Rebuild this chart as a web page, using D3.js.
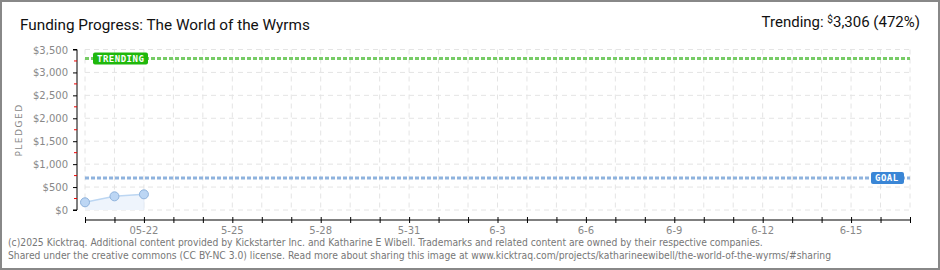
<!DOCTYPE html>
<html>
<head>
<meta charset="UTF-8">
<title>Funding Progress</title>
<script src="https://d3js.org/d3.v7.min.js"></script>
<style>
  body { margin: 0; padding: 0; background: #fff; }
  svg { display: block; }
  .tick-label { font-family: "DejaVu Sans", sans-serif; font-size: 10px; fill: #888; }
</style>
</head>
<body>
<svg id="chart" width="940" height="270"></svg>
<script>
// chart data
const days = ["2025-05-20", "2025-05-21", "2025-05-22"];
const pledged = [168, 298, 342];
const goal = 700;
const trending = 3306;
const trendingPct = 472;
const yTicks = [0, 500, 1000, 1500, 2000, 2500, 3000, 3500];
const xStart = "2025-05-20", xEnd = "2025-06-17";

const W = 940, H = 270;
const parse = d3.timeParse("%Y-%m-%d");
const svg = d3.select("#chart");

const x = d3.scaleTime().domain([parse(xStart), parse(xEnd)]).range([85, 910]);
const y = d3.scaleLinear().domain([0, 3500]).range([210, 49.5]);

// outer frame
svg.append("rect").attr("x", 1).attr("y", 1).attr("width", W - 2).attr("height", H - 2)
  .attr("fill", "#fff").attr("stroke", "#888").attr("stroke-width", 2);

// title
svg.append("text").attr("x", 20).attr("y", 30)
  .style("font-family", "Roboto, sans-serif").style("font-size", "15.3px").style("fill", "#111")
  .text("Funding Progress: The World of the Wyrms");

const tr = svg.append("text").attr("x", 920).attr("y", 27).attr("text-anchor", "end")
  .style("font-family", "Roboto, sans-serif").style("font-size", "15px").style("fill", "#111");
tr.append("tspan").text("Trending:  ");
tr.append("tspan").attr("dy", -4).style("font-size", "10px").text("$");
tr.append("tspan").attr("dy", 4).text(d3.format(",")(trending) + " (" + trendingPct + "%)");

// grid
const allDays = d3.timeDay.range(parse(xStart), d3.timeDay.offset(parse(xEnd), 1));
svg.append("g").selectAll("line").data(allDays).enter().append("line")
  .attr("x1", d => x(d)).attr("x2", d => x(d)).attr("y1", y(3500)).attr("y2", y(0))
  .attr("stroke", "#e4e4e4").attr("stroke-dasharray", "5,4");
svg.append("g").selectAll("line").data(yTicks).enter().append("line")
  .attr("x1", 85).attr("x2", 910).attr("y1", d => y(d)).attr("y2", d => y(d))
  .attr("stroke", "#e4e4e4").attr("stroke-dasharray", "5,4");

// y axis
const yAxis = d3.axisLeft(y).tickValues(yTicks).tickSize(4).tickFormat(d => "$" + d3.format(",")(d));
const gy = svg.append("g").attr("transform", "translate(77,0)").call(yAxis);
gy.select(".domain").attr("stroke", "#000").attr("d", "M-4," + y(3500) + "H0V" + y(0) + "H-4");
gy.selectAll(".tick line").attr("stroke", "#000");
gy.selectAll(".tick text").attr("class", "tick-label").attr("x", -9).attr("dy", "0.35em");
gy.selectAll(".minor").data(yTicks.slice(0, -1).map(d => d + 250)).enter().append("line")
  .attr("x1", -3).attr("x2", 0).attr("y1", d => y(d)).attr("y2", d => y(d))
  .attr("stroke", "#e00").attr("stroke-width", 1);

svg.append("text").attr("transform", "translate(22,130) rotate(-90)").attr("text-anchor", "middle")
  .style("font-family", "DejaVu Sans, sans-serif").style("font-size", "9px").style("fill", "#888")
  .style("letter-spacing", "1.5px").text("PLEDGED");

// x axis
const labelDays = allDays.filter(d => d3.timeDay.count(parse("2025-05-22"), d) % 3 === 0 && d >= parse("2025-05-22"));
const xAxis = d3.axisBottom(x).tickValues(allDays).tickSize(0).tickFormat("");
const gx = svg.append("g").attr("transform", "translate(0,220)").call(xAxis);
gx.select(".domain").attr("stroke", "#000").attr("d", "M85,0H910");
gx.selectAll(".tick line").attr("stroke", "#000").attr("y1", -3).attr("y2", 3);
gx.selectAll(".lbl").data(labelDays).enter().append("text").attr("class", "tick-label")
  .attr("x", d => x(d)).attr("y", 14).attr("text-anchor", "middle")
  .text((d, i) => i === 0 ? d3.timeFormat("%m-%d")(d) : d3.timeFormat("%-m-%-d")(d));

// pledged area and line
const pts = days.map((d, i) => ({ date: parse(d), v: pledged[i] }));
svg.append("path").datum(pts)
  .attr("d", d3.area().x(d => x(d.date)).y0(y(0)).y1(d => y(d.v)))
  .attr("fill", "#eef4fc");
svg.append("path").datum(pts)
  .attr("d", d3.line().x(d => x(d.date)).y(d => y(d.v)))
  .attr("fill", "none").attr("stroke", "#bcd6f2").attr("stroke-width", 1.5);
svg.append("line").attr("x1", x(pts[2].date)).attr("x2", x(pts[2].date))
  .attr("y1", y(pts[2].v)).attr("y2", y(0)).attr("stroke", "#e4ecf6");
svg.append("g").selectAll("circle").data(pts).enter().append("circle")
  .attr("cx", d => x(d.date)).attr("cy", d => y(d.v)).attr("r", 4.5)
  .attr("fill", "#bcd6f4").attr("stroke", "#8fb3dc").attr("stroke-width", 1);

// trending and goal lines
function refLine(v, color, label, bx, bw, bcolor) {
  svg.append("line").attr("x1", 85).attr("x2", 910).attr("y1", y(v)).attr("y2", y(v))
    .attr("stroke", color).attr("stroke-width", 3).attr("stroke-dasharray", "4,2");
  svg.append("rect").attr("x", bx).attr("y", y(v) - 6).attr("width", bw).attr("height", 12)
    .attr("rx", 2).attr("fill", bcolor);
  svg.append("text").attr("x", bx + 4).attr("y", y(v) + 3.5)
    .style("font-family", "DejaVu Sans Mono, monospace").style("font-size", "9px")
    .style("font-weight", "bold").style("fill", "#fff").style("letter-spacing", "0.5px").text(label);
}
refLine(trending, "#77cc66", "TRENDING", 93, 55, "#1fb80c");
refLine(goal, "#8fb3de", "GOAL", 871, 33, "#3a86d6");

// footer
const foot = svg.append("g").style("font-family", "DejaVu Sans Condensed, Roboto, sans-serif")
  .style("font-size", "10.25px").style("fill", "#777");
foot.append("text").attr("x", 8).attr("y", 246)
  .text("(c)2025 Kicktraq. Additional content provided by Kickstarter Inc. and Katharine E Wibell. Trademarks and related content are owned by their respective companies.");
foot.append("text").attr("x", 8).attr("y", 259)
  .text("Shared under the creative commons (CC BY-NC 3.0) license. Read more about sharing this image at www.kicktraq.com/projects/katharineewibell/the-world-of-the-wyrms/#sharing");
</script>
</body>
</html>
